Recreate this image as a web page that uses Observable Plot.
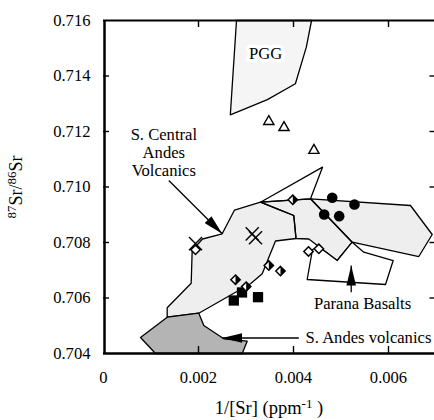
<!DOCTYPE html>
<html><head><meta charset="utf-8">
<script src="https://cdn.jsdelivr.net/npm/d3@7"></script>
<script src="https://cdn.jsdelivr.net/npm/@observablehq/plot@0.6"></script>
<style>body{margin:0;background:#fff}svg{display:block}</style>
</head><body><div id="chart"></div>
<script>
// ---- axis ticks ----
const xTicks = [0, 0.002, 0.004, 0.006];
const yTicks = [0.704, 0.706, 0.708, 0.710, 0.712, 0.714, 0.716];
const xInnerTicks = [0.002, 0.004, 0.006];
const yInnerTicks = [0.706, 0.708, 0.710, 0.712, 0.714];

// ---- fields (polygons, [1/Sr, 87Sr/86Sr]) ----
const pggField = [[0.00280,0.71600],[0.00438,0.71600],[0.00427,0.71504],[0.00404,0.71372],[0.00345,0.71315],[0.00267,0.71260]];
const andesFieldA = [[0.001341,0.705308],[0.001341,0.705647],[0.001846,0.706533],[0.001867,0.707712],[0.002084,0.708126],[0.002499,0.708314],[0.002758,0.709171],[0.003305,0.709452],[0.003657,0.709214],[0.004006,0.708973],[0.004053,0.708144],[0.003621,0.708054],[0.003341,0.706872],[0.003095,0.706512],[0.002006,0.705452]];
const andesFieldB = [[0.003305,0.709452],[0.004358,0.709575],[0.005236,0.708011],[0.004920,0.707351],[0.004322,0.708126],[0.004053,0.708144],[0.004006,0.708973],[0.003657,0.709214]];
const andesFieldC = [[0.004358,0.709575],[0.006463,0.709333],[0.006920,0.708288],[0.006638,0.707495],[0.005236,0.708011]];
const openTriangleField = [[0.003305,0.709452],[0.004611,0.710714],[0.004358,0.709575]];
const paranaField = [[0.004400,0.707748],[0.004533,0.707845],[0.004920,0.707351],[0.005236,0.708011],[0.005480,0.707650],[0.006099,0.707351],[0.005937,0.706486],[0.004288,0.706667]];
const sAndesField = [[0.001095,0.704000],[0.000779,0.704577],[0.001341,0.705308],[0.002006,0.705452],[0.002112,0.705009],[0.002533,0.704530],[0.003025,0.704443],[0.002920,0.704000]];

// ---- samples ----
const triX = [0.00348, 0.00380, 0.00443];
const triY = [0.71236, 0.71214, 0.71132];
const circX = [0.004815, 0.005284, 0.004646, 0.004962];
const circY = [0.70961, 0.70937, 0.70901, 0.70895];
const sqX = [0.002743, 0.002916, 0.003253];
const sqY = [0.70591, 0.70620, 0.70603];
const crossX = [0.003131, 0.003200, 0.001937];
const crossY = [0.70831, 0.70817, 0.70796];
const halfDiaX = [0.003985, 0.003480, 0.003726, 0.002779, 0.003004];
const halfDiaY = [0.70954, 0.70717, 0.70697, 0.70666, 0.70641];
const openDiaX = [0.004316, 0.004533, 0.001937];
const openDiaY = [0.707676, 0.707773, 0.707737];

// ---- annotations ----
const arrowX1 = [0.001375, 0.004112, 0.005215];
const arrowY1 = [0.710234, 0.704559, 0.706209];
const arrowX2 = [0.002499, 0.002499, 0.005215];
const arrowY2 = [0.708314, 0.704559, 0.707171];
const centerLabelText = ["S. Central\nAndes\nVolcanics", "Parana Basalts"];
const centerLabelX = [0.00127, 0.005453];
const centerLabelY = [0.711254, 0.70582];
const startLabelText = ["S. Andes volcanics"];
const startLabelX = [0.004253];
const startLabelY = [0.704569];
const pggLabel = "PGG", pggLabelX = 0.003411, pggLabelY = 0.7148;
const xTitle = "1/[Sr] (ppm-1)";
const yTitle = "87Sr/86Sr";

// ---- layout ----
const W = 434, H = 420;
const xDomain = [0, 0.007], xRange = [103, 435.5];
const yDomain = [0.704, 0.716], yRange = [353, 20];
const tickDX = 6 * (xDomain[1]-xDomain[0]) / (xRange[1]-xRange[0]);
const tickDY = 7 * (yDomain[1]-yDomain[0]) / (yRange[0]-yRange[1]);
const FONT = "'Liberation Serif', 'Times New Roman', serif";
const FS = 16.6;

const halfDiamond = {draw(ctx, size) { const r = Math.sqrt(size) * 0.62625; ctx.moveTo(0,-r); ctx.lineTo(r,0); ctx.lineTo(0,r); ctx.closePath(); }};
function filledHead(color, context) {
  const doc = (context && context.document) || document;
  const ns = "http://www.w3.org/2000/svg";
  const m = doc.createElementNS(ns, "marker");
  m.setAttribute("viewBox", "-20 -5 20 10");
  m.setAttribute("markerWidth", 20);
  m.setAttribute("markerHeight", 10);
  m.setAttribute("markerUnits", "userSpaceOnUse");
  m.setAttribute("orient", "auto");
  m.setAttribute("refX", 0); m.setAttribute("refY", 0);
  const p = doc.createElementNS(ns, "path");
  p.setAttribute("d", "M-20,-4.8L0,0L-20,4.8Z");
  p.setAttribute("fill", "black"); p.setAttribute("stroke", "none");
  m.appendChild(p);
  return m;
}
const idx = a => a.map((_, i) => i);
const px = d => d[0], py = d => d[1];
const LIGHT = "#eeeeee";
const T = {fontFamily: FONT, fill: "black"};

const svg = Plot.plot({
  width: W, height: H,
  marginLeft: 103, marginRight: 0, marginTop: 20, marginBottom: 67,
  x: {domain: xDomain, range: xRange},
  y: {domain: yDomain, range: yRange},
  style: {fontFamily: FONT, fontSize: FS + "px", background: "white", color: "black"},
  marks: [
    Plot.line(pggField, {x: px, y: py, curve: "linear-closed", fill: "#f5f5f5", stroke: "black", strokeWidth: 1.3}),
    Plot.line(andesFieldA, {x: px, y: py, curve: "linear-closed", fill: LIGHT, stroke: "none"}),
    Plot.line(andesFieldB, {x: px, y: py, curve: "linear-closed", fill: LIGHT, stroke: "none"}),
    Plot.line(andesFieldC, {x: px, y: py, curve: "linear-closed", fill: LIGHT, stroke: "none"}),
    Plot.line(andesFieldA, {x: px, y: py, curve: "linear-closed", fill: "none", stroke: "black", strokeWidth: 1.3}),
    Plot.line(andesFieldB, {x: px, y: py, curve: "linear-closed", fill: "none", stroke: "black", strokeWidth: 1.3}),
    Plot.line(andesFieldC, {x: px, y: py, curve: "linear-closed", fill: "none", stroke: "black", strokeWidth: 1.3}),
    Plot.line(openTriangleField, {x: px, y: py, curve: "linear-closed", fill: "none", stroke: "black", strokeWidth: 1.3}),
    Plot.line(paranaField, {x: px, y: py, curve: "linear-closed", fill: "white", stroke: "black", strokeWidth: 1.3}),
    Plot.line(sAndesField, {x: px, y: py, curve: "linear-closed", fill: "#b4b4b4", stroke: "black", strokeWidth: 1.3}),
    // frame
    Plot.ruleX([xDomain[0]], {stroke: "black", strokeWidth: 2.5, dx: 1}),
    Plot.ruleY([yDomain[0]], {stroke: "black", strokeWidth: 2.5}),
    Plot.ruleY([yDomain[1]], {stroke: "black", strokeWidth: 2.2}),
    // inward ticks
    Plot.ruleX(xInnerTicks, {x: d => d, y1: yDomain[0], y2: yDomain[0] + tickDY, stroke: "black", strokeWidth: 1.4}),
    Plot.ruleX(xInnerTicks, {x: d => d, y1: yDomain[1], y2: yDomain[1] - tickDY, stroke: "black", strokeWidth: 1.4}),
    Plot.ruleY(yInnerTicks, {y: d => d, x1: xDomain[0], x2: xDomain[0] + tickDX, stroke: "black", strokeWidth: 1.4}),
    Plot.ruleY(yInnerTicks, {y: d => d, x1: xDomain[1], x2: xDomain[1] - tickDX, stroke: "black", strokeWidth: 1.4}),
    // tick labels
    Plot.axisX(xTicks, {tickSize: 0, tickPadding: 17.4, label: null, fontSize: FS, fontFamily: FONT, tickFormat: d => d === 0 ? "0" : d3.format(".3f")(d)}),
    Plot.axisY(yTicks, {tickSize: 0, tickPadding: 13, label: null, fontSize: FS, fontFamily: FONT, tickFormat: d3.format(".3f")}),
    // arrows
    Plot.link(idx(arrowX1), {x1: i => arrowX1[i], y1: i => arrowY1[i], x2: i => arrowX2[i], y2: i => arrowY2[i], stroke: "black", strokeWidth: 1.3, markerEnd: filledHead}),
    // samples
    Plot.dot(idx(triX), {x: i => triX[i], y: i => triY[i], symbol: "triangle", r: 3.8, fill: "white", stroke: "black", strokeWidth: 1.4}),
    Plot.dot(idx(circX), {x: i => circX[i], y: i => circY[i], symbol: "circle", r: 5.3, fill: "black", stroke: "none"}),
    Plot.dot(idx(sqX), {x: i => sqX[i], y: i => sqY[i], symbol: "square", r: 5.8, fill: "black", stroke: "none"}),
    Plot.dot(idx(crossX), {x: i => crossX[i], y: i => crossY[i], symbol: "times", r: 6, stroke: "black", strokeWidth: 1.4}),
    Plot.dot(idx(openDiaX), {x: i => openDiaX[i], y: i => openDiaY[i], symbol: "diamond2", r: 4.2, fill: "white", stroke: "black", strokeWidth: 1.5}),
    Plot.dot(idx(halfDiaX), {x: i => halfDiaX[i], y: i => halfDiaY[i], symbol: "diamond2", r: 4.2, fill: "white", stroke: "black", strokeWidth: 1.5}),
    Plot.dot(idx(halfDiaX), {x: i => halfDiaX[i], y: i => halfDiaY[i], symbol: halfDiamond, r: 4.2, fill: "black", stroke: "none"}),
    // labels
    Plot.text([pggLabel], {x: pggLabelX, y: pggLabelY, text: d => d, fontFamily: FONT, fill: "white", stroke: "white", strokeWidth: 7, fontSize: FS}),
    Plot.text([pggLabel], {x: pggLabelX, y: pggLabelY, text: d => d, ...T, fontSize: FS}),
    Plot.text(idx(centerLabelText), {x: i => centerLabelX[i], y: i => centerLabelY[i], text: i => centerLabelText[i], textAnchor: "middle", lineHeight: 1.1, ...T, fontSize: FS}),
    Plot.text(idx(startLabelText), {x: i => startLabelX[i], y: i => startLabelY[i], text: i => startLabelText[i], textAnchor: "start", ...T, fontSize: FS}),
    Plot.text([xTitle], {text: d => d, frameAnchor: "bottom", dy: 60.5, lineAnchor: "bottom", textAnchor: "middle", fontSize: 18.5, ...T}),
    Plot.text([yTitle], {text: d => d, frameAnchor: "left", dx: -81.3, rotate: -90, lineAnchor: "bottom", textAnchor: "middle", fontSize: 18, ...T})
  ]
});

// superscripts in axis titles
function rich(t, parts) {
  const ns = "http://www.w3.org/2000/svg";
  t.textContent = "";
  let raised = false;
  for (const [s, sup] of parts) {
    const ts = document.createElementNS(ns, "tspan");
    ts.textContent = s;
    if (sup && !raised) { ts.setAttribute("dy", "-6"); ts.setAttribute("font-size", "13px"); raised = true; }
    else if (sup) { ts.setAttribute("font-size", "13px"); }
    else if (!sup && raised) { ts.setAttribute("dy", "6"); raised = false; }
    t.appendChild(ts);
  }
}
for (const t of svg.querySelectorAll("text")) {
  if (t.textContent === xTitle) rich(t, [["1/[Sr] (ppm", 0], ["-1", 1], [" )", 0]]);
  else if (t.textContent === yTitle) rich(t, [["87", 1], ["Sr/", 0], ["86", 1], ["Sr", 0]]);
}
document.getElementById("chart").appendChild(svg);
</script></body></html>
